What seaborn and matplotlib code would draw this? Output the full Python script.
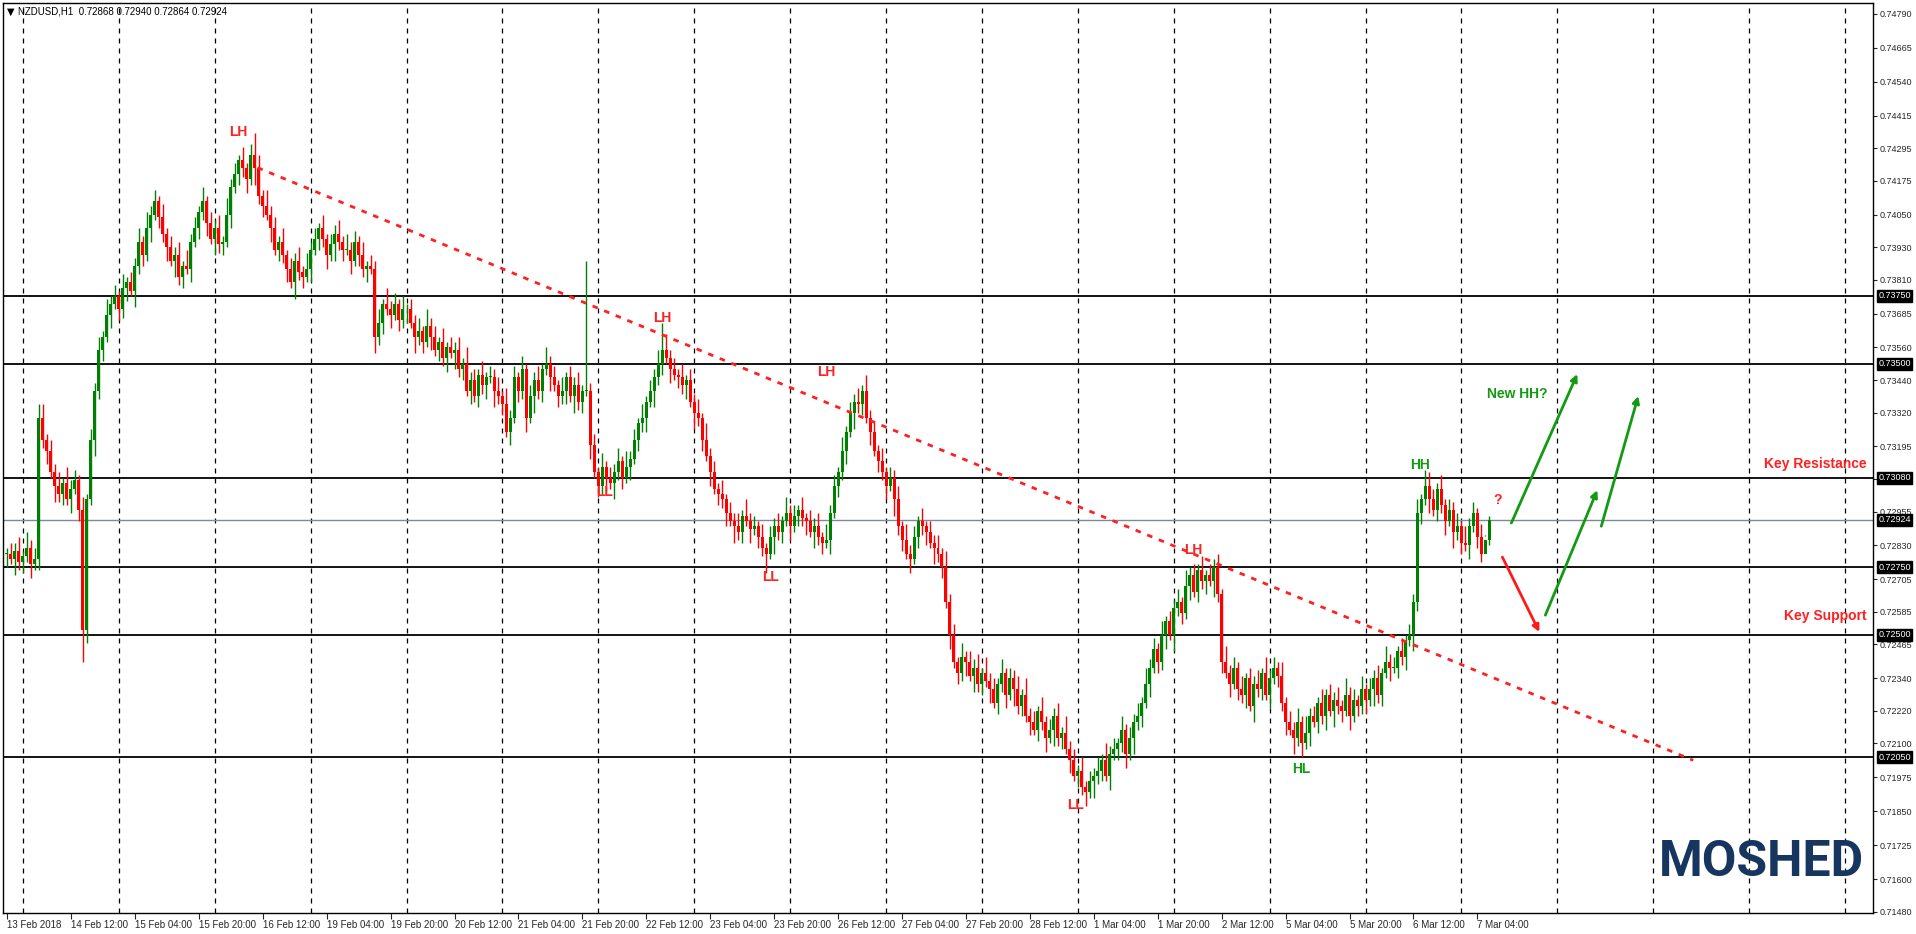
import numpy as np
import pandas as pd
import matplotlib
matplotlib.use("Agg")
import matplotlib.pyplot as plt
import seaborn as sns

# closes in pips above 0.7000, one per hourly bar
closes_pips = [
    280, 278, 281, 277, 279, 282, 276, 278, 330, 322, 318,
    310, 305, 302, 306, 300, 304, 307, 296, 252,
    300, 322, 340, 355, 360, 368, 372, 375, 370, 378, 380, 377, 386,
    395, 390, 400, 405, 410, 404, 398, 393, 388, 390, 382, 386,
    385, 395, 400, 406, 410, 402, 396, 400, 394, 395, 405, 415, 420,
    425, 422, 418, 427, 422, 412, 408, 405, 400, 392, 395,
    390, 385, 380, 388, 384, 382, 385, 392, 396,
    400, 396, 390, 394, 398, 395, 392, 392, 388, 395, 390, 385, 386,
    385, 360, 365, 372, 370, 368, 372, 366, 370,
    370, 365, 360, 362, 358, 364, 360, 355, 358, 352, 356, 354,
    355, 348, 350, 340, 344, 338, 346, 342, 345, 345, 340, 338,
    335, 325, 330, 345, 340, 348, 330, 338, 344, 340, 348,
    350, 345, 342, 338, 340, 345, 338, 342, 336, 340, 340, 320,
    310, 305, 312, 308, 306, 310, 314, 308, 312, 315, 322, 328,
    330, 336, 340, 345, 350, 355, 352, 348, 346,
    345, 342, 344, 336, 332, 330, 322, 316, 310, 304, 302,
    300, 295, 292, 290, 288, 294, 292, 289, 290, 286, 282,
    280, 286, 290, 288, 292, 295, 290, 294, 296, 293,
    292, 288, 290, 286, 284, 285, 295, 305, 310, 318,
    325, 332, 336, 335, 340, 330, 325, 318, 314, 310, 305, 308,
    300, 290, 285, 280, 278, 286, 292, 290, 288, 284, 282, 280,
    275, 262, 250, 240, 236, 242, 240, 235, 238, 232, 236, 233,
    230, 225, 232, 236, 228, 234, 230, 224, 228, 220, 218,
    215, 222, 218, 212, 215, 220, 212, 214, 208, 204,
    198, 200, 194, 192, 196, 198, 200, 204, 198, 206, 208,
    210, 215, 206, 212, 218, 220, 225, 232, 238, 245, 240, 250,
    255, 250, 260, 262, 258, 268, 272, 266, 274, 270, 272,
    270, 275, 265, 240, 236, 232, 238, 230, 228, 234, 224, 232,
    230, 236, 228, 234, 238, 235, 225, 218, 215, 212, 218,
    210, 214, 220, 218, 225, 220, 228, 222, 226, 224,
    222, 228, 220, 226, 224, 230, 226, 230, 234, 228, 236, 240, 238,
    238, 244, 242, 248, 250, 262, 295, 300, 305,
    300, 296, 304, 298, 292, 296, 288, 290, 284,
    283, 290, 295, 286, 280, 285, 292.4,
]
wick_pattern = [2, 4, 3, 5, 2, 6, 3, 4, 2, 5]
high_fix = {8: 335, 62: 435, 145: 388, 164: 365, 302: 278, 356: 310, 371: 294}
low_fix = {19: 240, 190: 273, 270: 187, 324: 205, 370: 286.4}

level_lines = [0.7375, 0.7350, 0.7308, 0.7275, 0.7250, 0.7205]
last_price = 0.72924
ytick_vals = [0.74790, 0.74665, 0.74540, 0.74415, 0.74295, 0.74175, 0.74050,
              0.73930, 0.73810, 0.73685, 0.73560, 0.73440, 0.73320, 0.73195,
              0.73075, 0.72955, 0.72830, 0.72705, 0.72585, 0.72465, 0.72340,
              0.72220, 0.72100, 0.71975, 0.71850, 0.71725, 0.71600, 0.71480]
xtick_labels = ["13 Feb 2018", "14 Feb 12:00", "15 Feb 04:00", "15 Feb 20:00",
                "16 Feb 12:00", "19 Feb 04:00", "19 Feb 20:00", "20 Feb 12:00",
                "21 Feb 04:00", "21 Feb 20:00", "22 Feb 12:00", "23 Feb 04:00",
                "23 Feb 20:00", "26 Feb 12:00", "27 Feb 04:00", "27 Feb 20:00",
                "28 Feb 12:00", "1 Mar 04:00", "1 Mar 20:00", "2 Mar 12:00",
                "5 Mar 04:00", "5 Mar 20:00", "6 Mar 12:00", "7 Mar 04:00"]
trend_bars = [62.7, 422]
trend_prices = [0.74223, 0.72038]

swing_labels = [("LH", 58, 0.74355, "red"), ("LH", 164, 0.73669, "red"),
                ("LH", 205, 0.7347, "red"), ("LL", 149.5, 0.73027, "red"),
                ("LL", 191, 0.72714, "red"), ("LL", 267.5, 0.71873, "red"),
                ("LH", 297, 0.72813, "red"), ("HL", 324, 0.72005, "green"),
                ("HH", 353.75, 0.73127, "green"), ("?", 373, 0.72999, "red")]
arrows = [((376.5, 0.72913), (393, 0.73462), "#139a13"),
          ((399, 0.72901), (408.25, 0.73381), "#139a13"),
          ((385, 0.72573), (398, 0.73034), "#139a13"),
          ((374.25, 0.72787), (383.5, 0.72511), "#ff1a1a")]

# build OHLC
c = 0.7 + np.array(closes_pips) / 10000.0
o = np.r_[c[0], c[:-1]]
n = len(c)
hi = np.maximum(o, c) + np.array([wick_pattern[i % len(wick_pattern)] for i in range(n)]) / 10000.0
lo = np.minimum(o, c) - np.array([wick_pattern[(i + 3) % len(wick_pattern)] for i in range(n)]) / 10000.0
for k, v in high_fix.items():
    hi[k] = 0.7 + v / 10000.0
for k, v in low_fix.items():
    lo[k] = 0.7 + v / 10000.0
df = pd.DataFrame({"bar": np.arange(n), "open": o, "high": hi, "low": lo, "close": c})

sns.set_theme(style="white")
plt.rcParams["font.family"] = ["Liberation Sans", "DejaVu Sans"]

fig = plt.figure(figsize=(19.16, 9.34), dpi=100)
ax = fig.add_axes([3 / 1916, 21 / 934, 1870 / 1916, 910 / 934])
ax.set_xlim(-1, 467)
ax.set_ylim(0.71475, 0.74830)

# grid
for gx in range(4, 467, 24):
    ax.axvline(gx, color="black", lw=0.9, ls=(0, (4, 4)), zorder=1)

for lv in level_lines:
    ax.axhline(lv, color="black", lw=1.3, zorder=2)
ax.axhline(last_price, color="#7a8b99", lw=1.0, zorder=2)

# candles
up = df["close"] >= df["open"]
colors = np.where(up, "#008000", "#ff0000")
ax.vlines(df["bar"], df["low"], df["high"], colors=colors, lw=1.0, zorder=3)
body_lo = np.minimum(df["open"], df["close"])
body_h = np.maximum(np.abs(df["close"] - df["open"]), 0.00003)
ax.bar(df["bar"], body_h, bottom=body_lo, width=0.75, color=colors, linewidth=0, zorder=4)

# trend line
sns.lineplot(x=trend_bars, y=trend_prices, ax=ax, color="#ff2020", lw=2.0,
             linestyle=(0, (2, 2.5)), zorder=5)

for txt, bx, py, col in swing_labels:
    ax.text(bx, py, txt, color="#ff2020" if col == "red" else "#139a13",
            fontsize=10, fontweight="bold", ha="center", va="center", zorder=6)
for (x0, y0), (x1, y1), col in arrows:
    ax.annotate("", xy=(x1, y1), xytext=(x0, y0),
                arrowprops=dict(arrowstyle="-|>", color=col, lw=2.0,
                                mutation_scale=10, shrinkA=0, shrinkB=0), zorder=6)
ax.text(378, 0.73389, "New HH?", color="#139a13", fontsize=10, fontweight="bold",
        ha="center", va="center")
ax.text(465.5, 0.7313, "Key Resistance", color="#ff2020", fontsize=10, fontweight="bold",
        ha="right", va="center")
ax.text(465.5, 0.72570, "Key Support", color="#ff2020", fontsize=10, fontweight="bold",
        ha="right", va="center")

ax.text(0.002, 0.996, "\u25bc", transform=ax.transAxes, fontsize=7, ha="left", va="top",
        color="black", family="DejaVu Sans")
ax.text(0.008, 0.996, "NZDUSD,H1  0.72868 0.72940 0.72864 0.72924",
        transform=ax.transAxes, fontsize=7, ha="left", va="top", color="black")
ax.text(0.995, 0.03, "MOSHED", transform=ax.transAxes, fontsize=36, fontweight="bold",
        color="#17365f", ha="right", va="bottom", family="Roboto")

# axes
ax.yaxis.tick_right()
ax.set_yticks(ytick_vals)
ax.set_yticklabels([f"{v:.5f}" for v in ytick_vals], fontsize=6.5)
ax.tick_params(axis="y", length=3, width=0.8, direction="out", pad=2, right=True)
ax.set_xticks(range(0, 16 * len(xtick_labels), 16))
ax.set_xticklabels(xtick_labels, fontsize=7, ha="left")
ax.tick_params(axis="x", length=4, width=0.8, direction="out", pad=1, bottom=True)
for s in ax.spines.values():
    s.set_color("black")
    s.set_linewidth(1.0)

for lv in level_lines + [last_price]:
    ax.annotate(f"{lv:.5f}", xy=(1.0, lv), xycoords=("axes fraction", "data"),
                xytext=(4, 0), textcoords="offset points", fontsize=6.5, color="white",
                va="center", ha="left",
                bbox=dict(boxstyle="square,pad=0.15", fc="black", ec="black"),
                annotation_clip=False)

fig.savefig("out.png", dpi=100)
